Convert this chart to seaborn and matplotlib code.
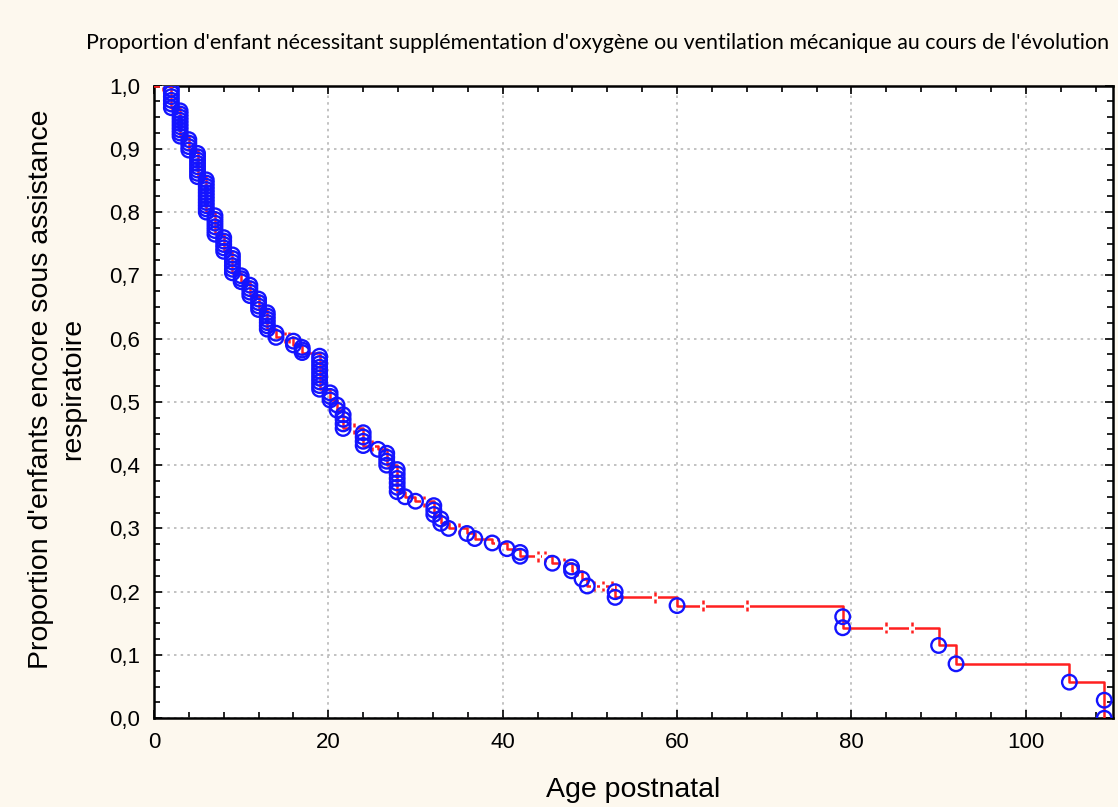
import numpy as np
import pandas as pd
import matplotlib
matplotlib.use("Agg")
import matplotlib.pyplot as plt
import seaborn as sns
from matplotlib.ticker import MultipleLocator, FuncFormatter
from matplotlib.path import Path

# ---- data ----
event_times = [2, 3, 4, 5, 6, 7, 8, 9, 10, 11, 12, 13, 14, 16, 17, 19, 20.2, 21,
               21.7, 24, 25.7, 26.7, 27.9, 28.8, 30, 32.1, 32.9, 33.8, 35.9, 36.8,
               38.8, 40.5, 42, 45.7, 47.9, 49.1, 49.7, 52.9, 60, 79, 90, 92, 105, 109]
surv_after = [0.965, 0.920, 0.898, 0.856, 0.800, 0.765, 0.738, 0.704, 0.690, 0.668,
              0.646, 0.615, 0.602, 0.590, 0.578, 0.520, 0.503, 0.487,
              0.458, 0.431, 0.425, 0.400, 0.358, 0.350, 0.343, 0.322, 0.308, 0.300,
              0.292, 0.284, 0.277, 0.268, 0.256, 0.245, 0.233, 0.220, 0.209, 0.191,
              0.178, 0.143, 0.115, 0.086, 0.057, 0.0]
n_events = [6, 9, 4, 8, 11, 6, 5, 6, 3, 4, 4, 6, 2, 2, 3, 10, 3, 2,
            4, 4, 1, 4, 6, 1, 1, 3, 2, 1, 1, 1, 1, 1, 2, 1, 2, 1, 1, 2,
            1, 2, 1, 1, 1, 2]
censor_times = [1, 15, 15.5, 23, 25, 31, 35, 39.5, 44, 44.8, 47, 48.5, 50.5,
                51.5, 52.5, 57.5, 63, 68, 84, 87]

x_ticks = [0, 20, 40, 60, 80, 100]
y_ticks = [0.0, 0.1, 0.2, 0.3, 0.4, 0.5, 0.6, 0.7, 0.8, 0.9, 1.0]

title = "Proportion d'enfant nécessitant supplémentation d'oxygène ou ventilation mécanique au cours de l'évolution"
xlabel = "Age postnatal"
ylabel = "Proportion d'enfants encore sous assistance\nrespiratoire"

# ---- derived tables ----
line_df = pd.DataFrame({"t": [0.0] + list(event_times), "s": [1.0] + list(surv_after)})

mk_t, mk_s = [], []
prev = 1.0
for t, s, n in zip(event_times, surv_after, n_events):
    step = (prev - s) / n
    for k in range(1, n + 1):
        mk_t.append(t)
        mk_s.append(prev - k * step)
    prev = s
marker_df = pd.DataFrame({"t": mk_t, "s": mk_s})

lt = np.array(line_df["t"])
ls = np.array(line_df["s"])
cens_s = [ls[np.searchsorted(lt, c, side="right") - 1] for c in censor_times]
cens_df = pd.DataFrame({"t": censor_times, "s": cens_s})

# censor glyph: short vertical dashes above and below the line (":" look)
cens_marker = Path([(0, 0.35), (0, 1.0), (0, -0.35), (0, -1.0)],
                   [Path.MOVETO, Path.LINETO, Path.MOVETO, Path.LINETO])

# ---- style ----
sns.set_style("ticks")
bg = "#FDF8EE"
plt.rcParams["font.family"] = ["Liberation Sans", "DejaVu Sans"]
plt.rcParams["text.color"] = "black"
plt.rcParams["axes.labelcolor"] = "black"
plt.rcParams["xtick.color"] = "black"
plt.rcParams["ytick.color"] = "black"

fig = plt.figure(figsize=(11.18, 8.07), dpi=100, facecolor=bg)
ax = fig.add_axes([0.1377, 0.110, 0.8578, 0.784])
ax.set_facecolor("white")

sns.lineplot(data=line_df, x="t", y="s", ax=ax, drawstyle="steps-post",
             estimator=None, sort=False, color="#FF2020", linewidth=1.8, zorder=3)
sns.scatterplot(data=cens_df, x="t", y="s", ax=ax, marker="s", s=16,
                color="white", linewidth=0, zorder=3.5)
sns.scatterplot(data=cens_df, x="t", y="s", ax=ax, marker=cens_marker, s=60,
                facecolor="none", edgecolor="#FF2020", linewidth=1.8, zorder=4)
sns.scatterplot(data=marker_df, x="t", y="s", ax=ax, marker="o", s=110,
                facecolor="none", edgecolor="#1414FF", linewidth=1.7, zorder=5)

ax.set_xlim(0, 110)
ax.set_ylim(0, 1.0)
ax.set_xticks(x_ticks)
ax.set_yticks(y_ticks)
ax.xaxis.set_minor_locator(MultipleLocator(4))
ax.yaxis.set_minor_locator(MultipleLocator(0.025))
ax.yaxis.set_major_formatter(FuncFormatter(lambda v, p: f"{v:.1f}".replace(".", ",")))
ax.xaxis.set_major_formatter(FuncFormatter(lambda v, p: f"{v:.0f}"))

ax.grid(True, which="major", color="#B8B8B8", linestyle=(0, (1.5, 2.5)), linewidth=1.2)
ax.tick_params(which="both", direction="in", top=True, right=True, color="black",
               width=1.2)
ax.tick_params(which="major", length=6, labelsize=16, pad=10)
ax.tick_params(which="minor", length=4)
for sp in ax.spines.values():
    sp.set_color("black")
    sp.set_linewidth(1.8)

ax.set_xlabel(xlabel, fontsize=20.5, labelpad=17)
ax.set_ylabel(ylabel, fontsize=20.5, labelpad=14, linespacing=1.3)
ax.yaxis.set_label_coords(-0.071, 0.52)

fig.text(0.5345, 0.947, title, ha="center", va="center", fontsize=15.4,
         family=["Lato", "DejaVu Sans"])

fig.savefig("out.png", dpi=100, facecolor=bg)
